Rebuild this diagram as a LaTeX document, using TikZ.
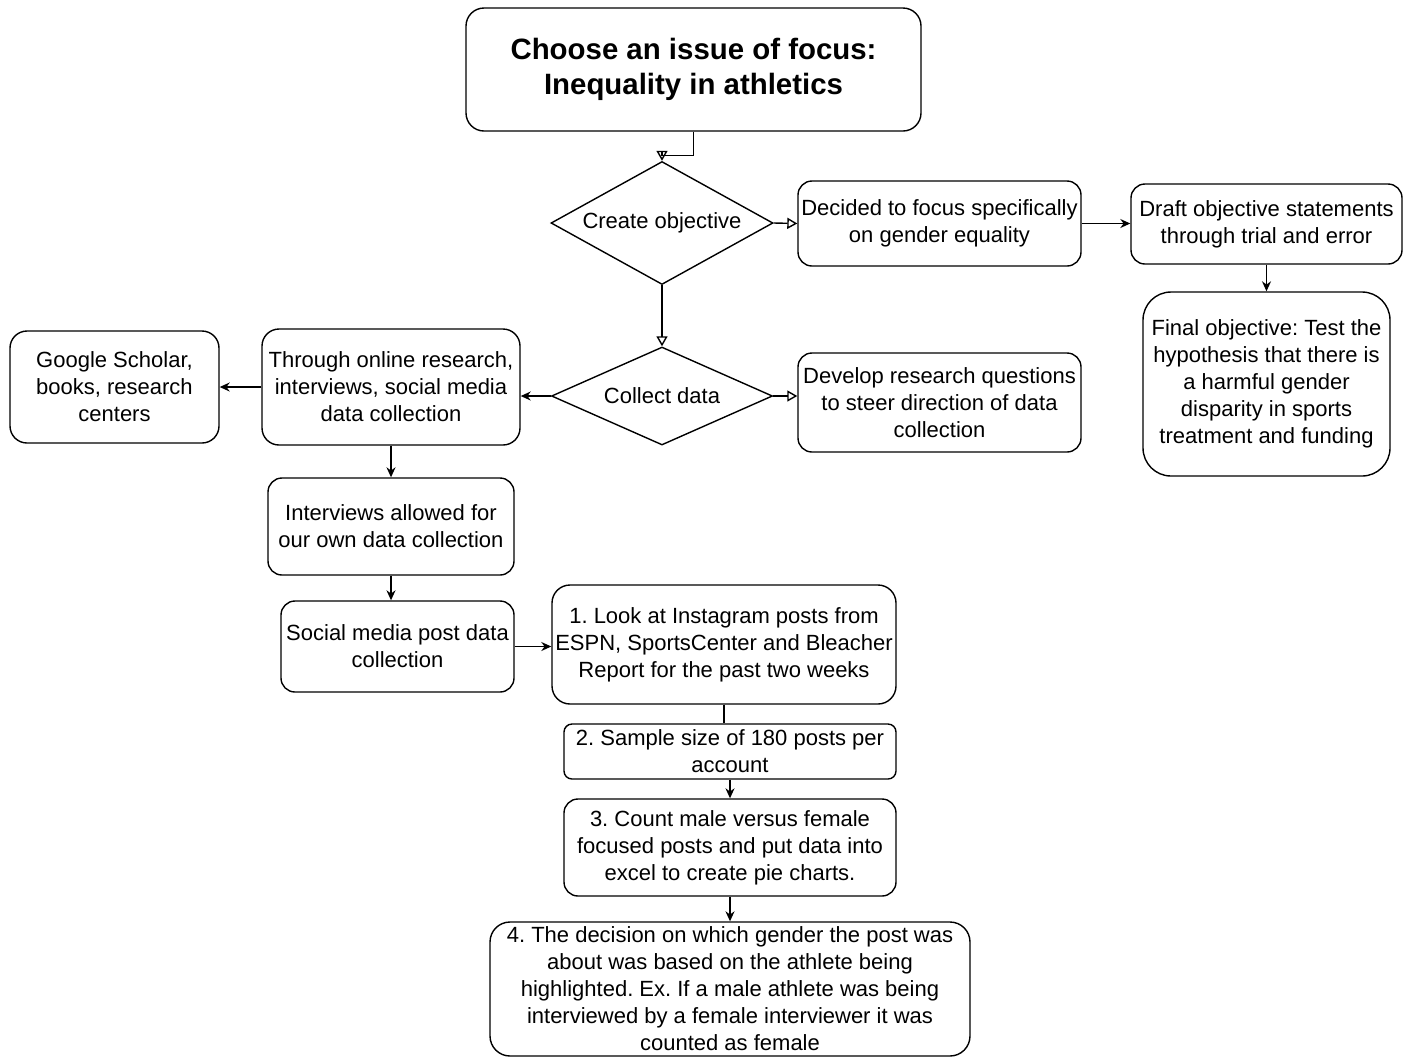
\documentclass[tikz,border=0pt]{standalone}
\usepackage{fontspec}
\setmainfont{Liberation Sans}
\usetikzlibrary{shapes.geometric,arrows.meta}
\frenchspacing

\tikzset{
    box/.style={draw, line width=0.7pt, rounded corners=7pt, align=center, inner sep=0pt,
        font=\fontsize{11}{13.5}\selectfont},
    decision/.style={draw, line width=0.7pt, diamond, inner sep=0pt,
        font=\fontsize{11}{13.5}\selectfont},
    arr/.style={line width=0.7pt, -{Stealth[length=5pt,width=4.5pt]}},
    openarr/.style={line width=0.7pt, -{Triangle[open,length=5pt,width=5.5pt]}},
}

\begin{document}
\begin{tikzpicture}[x=0.5pt, y=-0.5pt]
            \useasboundingbox (0,0) rectangle (1408,1057);

            % top of the chart
            \node[box, rounded corners=9pt, minimum width=227.5pt, minimum height=61.5pt,
                font=\fontsize{14.7}{17.6}\selectfont\bfseries] (issue) at (693.5,69.5)
                {Choose an issue of focus:\\Inequality in athletics};
            \node[decision, aspect=1.8, minimum width=111pt, minimum height=61.5pt] (objective) at (662,223)
                {Create objective};
            \node[box, minimum width=141.5pt, minimum height=42.5pt] (focus) at (939.5,223.5)
                {Decided to focus specifically\\on gender equality};
            \node[box, minimum width=135.5pt, minimum height=40pt] (draft) at (1266.5,224)
                {Draft objective statements\\through trial and error};
            \node[box, rounded corners=14pt, minimum width=123.5pt, minimum height=92pt] (final) at (1266.5,384)
                {Final objective: Test the\\hypothesis that there is\\a harmful gender\\disparity in sports\\treatment and funding};

            % data collection
            \node[decision, aspect=2.25, minimum width=110.5pt, minimum height=49pt] (collect) at (662,396)
                {Collect data};
            \node[box, minimum width=141.5pt, minimum height=49.5pt] (questions) at (939.5,402.5)
                {Develop research questions\\to steer direction of data\\collection};
            \node[box, rounded corners=8.5pt, minimum width=129pt, minimum height=58pt] (online) at (391,387)
                {Through online research,\\interviews, social media\\data collection};
            \node[box, rounded corners=8.5pt, minimum width=104.5pt, minimum height=56pt] (scholar) at (114.5,387)
                {Google Scholar,\\books, research\\centers};
            \node[box, minimum width=123pt, minimum height=48.5pt] (interviews) at (391,526.5)
                {Interviews allowed for\\our own data collection};
            \node[box, minimum width=116.5pt, minimum height=45.5pt] (social) at (397.5,646.5)
                {Social media post data\\collection};

            % steps
            \node[box, rounded corners=9pt, minimum width=172pt, minimum height=59.5pt] (look) at (724,644.5)
                {1. Look at Instagram posts from\\ESPN, SportsCenter and Bleacher\\Report for the past two weeks};
            \node[box, rounded corners=4pt, minimum width=166pt, minimum height=27.5pt] (sample) at (730,751.5)
                {2. Sample size of 180 posts per\\account};
            \node[box, minimum width=166pt, minimum height=48.5pt] (count) at (730,847.5)
                {3. Count male versus female\\focused posts and put data into\\excel to create pie charts.};
            \node[box, rounded corners=10pt, minimum width=240pt, minimum height=67pt] (decision) at (730,989)
                {4. The decision on which gender the post was\\about was based on the athlete being\\highlighted. Ex. If a male athlete was being\\interviewed by a female interviewer it was\\counted as female};

            % connectors
            \draw[openarr] (issue.south) -- ++(0,24) -| (objective.north);
            \draw[openarr] (objective.east) -- (focus.west);
            \draw[arr] (focus.east) -- (focus.east -| draft.west);
            \draw[arr] (draft.south) -- (final.north);
            \draw[openarr] (objective.south) -- (collect.north);
            \draw[openarr] (collect.east) -- (collect.east -| questions.west);
            \draw[arr] (collect.west) -- (collect.west -| online.east);
            \draw[arr] (online.west) -- (scholar.east);
            \draw[arr] (online.south) -- (interviews.north);
            \draw[arr] (interviews.south) -- (interviews.south |- social.north);
            \draw[arr] (social.east) -- (social.east -| look.west);
            \draw[line width=0.7pt] (look.south) -- (look.south |- sample.north);
            \draw[arr] (sample.south) -- (count.north);
            \draw[arr] (count.south) -- (decision.north);
        \end{tikzpicture}
\end{document}
